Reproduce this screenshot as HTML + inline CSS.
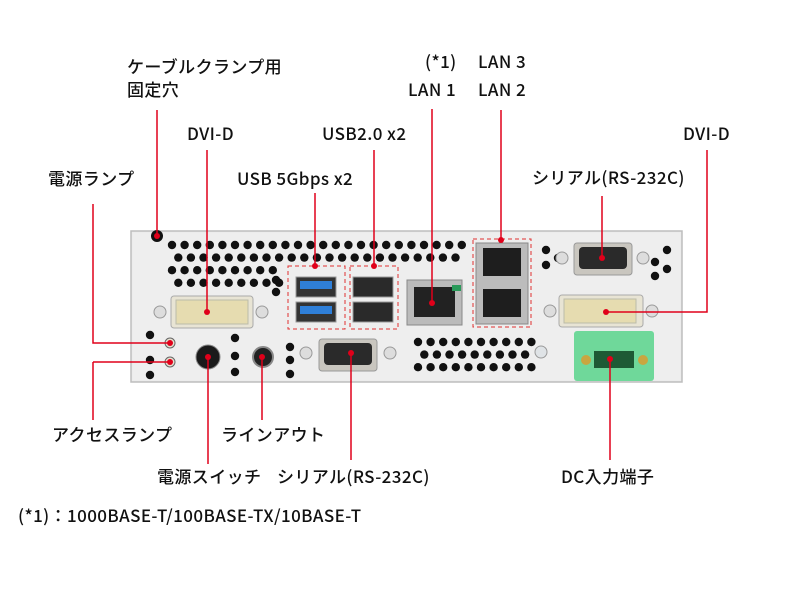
<!DOCTYPE html>
<html><head><meta charset="utf-8"><style>
body{margin:0;background:#fff;width:800px;height:600px;overflow:hidden}
svg{display:block}
text{font-family:"Noto Sans CJK JP","Liberation Sans",sans-serif;font-size:17px;font-weight:500;letter-spacing:0.4px;fill:#111}
</style></head><body>
<svg id="s" width="800" height="600" viewBox="0 0 800 600" xmlns="http://www.w3.org/2000/svg">
<rect x="131" y="231" width="551" height="151" fill="#ececec" stroke="#bdbdbd" stroke-width="1.5"/>
<rect x="133" y="233" width="547" height="147" fill="#eeeeee"/>
<g id="holes" fill="#111"></g>
<circle cx="157" cy="236" r="6" fill="#111"/>
<circle cx="160" cy="312" r="6" fill="#ddd" stroke="#999"/><circle cx="262" cy="312" r="6" fill="#ddd" stroke="#999"/>
<rect x="171" y="296" width="82" height="32" rx="3" fill="#e8e4d4" stroke="#aaa"/>
<rect x="176" y="300" width="72" height="24" fill="#e6dcb0" stroke="#bba"/>
<circle cx="170" cy="343" r="5" fill="#e5e0d0" stroke="#666"/><circle cx="170" cy="362" r="5" fill="#e5e0d0" stroke="#666"/>
<circle cx="208" cy="357" r="12" fill="#1a1a1a" stroke="#888"/>
<circle cx="263" cy="357" r="10" fill="#222" stroke="#888" stroke-width="2"/>
<rect x="288" y="266" width="57" height="63" fill="none" stroke="#e03030" stroke-dasharray="4,3"/>
<rect x="296" y="277" width="40" height="20" fill="#333" stroke="#999"/><rect x="300" y="281" width="32" height="8" fill="#2f7fd8"/>
<rect x="296" y="302" width="40" height="20" fill="#333" stroke="#999"/><rect x="300" y="306" width="32" height="8" fill="#2f7fd8"/>
<rect x="350" y="266" width="48" height="63" fill="none" stroke="#e03030" stroke-dasharray="4,3"/>
<rect x="353" y="277" width="40" height="20" fill="#2a2a2a" stroke="#999"/>
<rect x="353" y="302" width="40" height="20" fill="#2a2a2a" stroke="#999"/>
<circle cx="306" cy="353" r="6" fill="#ddd" stroke="#999"/><circle cx="390" cy="353" r="6" fill="#ddd" stroke="#999"/>
<rect x="319" y="339" width="58" height="32" rx="3" fill="#c9c6bf" stroke="#999"/><rect x="324" y="343" width="48" height="22" rx="4" fill="#2a2a2a"/>
<rect x="407" y="280" width="55" height="45" fill="#bbb" stroke="#888"/><rect x="414" y="287" width="41" height="30" fill="#222"/>
<rect x="452" y="285" width="9" height="6" fill="#2a9a5a"/>
<rect x="473" y="239" width="58" height="88" fill="none" stroke="#e03030" stroke-dasharray="4,3"/>
<rect x="476" y="243" width="52" height="81" fill="#bcbcbc" stroke="#888"/>
<rect x="483" y="248" width="38" height="28" fill="#1e1e1e"/><rect x="483" y="289" width="38" height="28" fill="#1e1e1e"/>
<circle cx="562" cy="258" r="6" fill="#ddd" stroke="#999"/><circle cx="643" cy="258" r="6" fill="#ddd" stroke="#999"/>
<rect x="574" y="243" width="58" height="32" rx="3" fill="#c9c6bf" stroke="#999"/><rect x="579" y="247" width="48" height="22" rx="4" fill="#2a2a2a"/>
<circle cx="550" cy="311" r="6" fill="#ddd" stroke="#999"/><circle cx="652" cy="311" r="6" fill="#ddd" stroke="#999"/>
<rect x="559" y="295" width="84" height="32" rx="3" fill="#e8e4d4" stroke="#aaa"/><rect x="564" y="299" width="72" height="24" fill="#e6dcb0" stroke="#bba"/>
<rect x="574" y="331" width="80" height="50" rx="3" fill="#6fd89a"/>
<rect x="594" y="351" width="40" height="17" fill="#1e5a35"/>
<circle cx="586" cy="360" r="5" fill="#c9a640"/><circle cx="643" cy="360" r="5" fill="#c9a640"/>
<circle cx="541" cy="352" r="6" fill="#dfe3e6" stroke="#999"/>
<g stroke="#e0001a" stroke-width="1.5" fill="none">
<path d="M157 110V236"/><path d="M207 150V312"/><path d="M93 204V343H170"/><path d="M93 362H170M93 362V420"/>
<path d="M315 193V266"/><path d="M374 150V266"/><path d="M432 109V303"/><path d="M501 110V240"/>
<path d="M707 150V312H606"/><path d="M602 196V258"/>
<path d="M208 357V464"/><path d="M262 357V420"/><path d="M351 353V460"/><path d="M610 359V460"/>
</g>
<g fill="#e0001a">
<circle cx="157" cy="236" r="3"/><circle cx="207" cy="312" r="3"/><circle cx="170" cy="343" r="3"/><circle cx="170" cy="362" r="3"/>
<circle cx="315" cy="266" r="3"/><circle cx="374" cy="266" r="3"/><circle cx="432" cy="303" r="3"/><circle cx="501" cy="240" r="3"/>
<circle cx="606" cy="312" r="3"/><circle cx="602" cy="258" r="3"/><circle cx="208" cy="357" r="3"/><circle cx="262" cy="357" r="3"/>
<circle cx="351" cy="353" r="3"/><circle cx="610" cy="359" r="3"/>
</g>
<text x="127" y="73">ケーブルクランプ用</text><text x="127" y="96">固定穴</text>
<text x="187" y="140">DVI-D</text><text x="322" y="140">USB2.0 x2</text>
<text x="48" y="185">電源ランプ</text><text x="237" y="185">USB 5Gbps x2</text>
<text x="425" y="68">(*1)</text><text x="478" y="68">LAN 3</text>
<text x="408" y="96">LAN 1</text><text x="478" y="96">LAN 2</text>
<text x="683" y="140">DVI-D</text><text x="532" y="184">シリアル(RS-232C)</text>
<text x="52" y="441">アクセスランプ</text><text x="221" y="441">ラインアウト</text>
<text x="157" y="483">電源スイッチ</text><text x="277" y="483">シリアル(RS-232C)</text><text x="561" y="483">DC入力端子</text>
<text x="18" y="522">(*1)：1000BASE-T/100BASE-TX/10BASE-T</text>
</svg>
<script>
var g=document.getElementById('holes'),ns='http://www.w3.org/2000/svg';
function h(x,y,r){var c=document.createElementNS(ns,'circle');c.setAttribute('cx',x);c.setAttribute('cy',y);c.setAttribute('r',r||4.2);g.appendChild(c);}
for(var r=0;r<4;r++){var y=245+r*12.6,off=(r%2)*6.3,xe=r<2?462:282;for(var x=172+off;x<=xe;x+=12.6)h(x,y);}
for(var r=0;r<3;r++){var y=342+r*12.6,off=(r%2)*6.3;for(var x=418+off;x<=535;x+=12.6)h(x,y);}
[[150,335],[150,360],[150,375],[235,338],[235,356],[235,372],[290,347],[290,360],[290,374],[276,280],[276,292],[546,250],[546,265],[558,258],[655,262],[655,276],[667,250],[667,269]].forEach(function(p){h(p[0],p[1]);});
</script>
</body></html>
